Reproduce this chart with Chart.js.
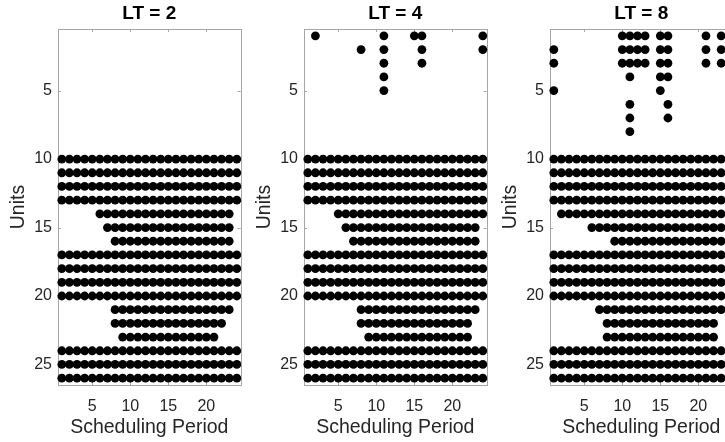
<!DOCTYPE html>
<html>
<head>
<meta charset="utf-8">
<title>Unit commitment by LT</title>
<script src="https://cdn.jsdelivr.net/npm/chart.js@4.4.1/dist/chart.umd.min.js"></script>
<style>
  html, body { margin: 0; padding: 0; background: #fff; }
  #wrap { position: relative; width: 725px; height: 442px; overflow: hidden; background: #fff; }
  #wrap canvas { position: absolute; top: 0; }
</style>
</head>
<body>
<div id="wrap">
  <canvas id="lt2" width="245" height="442" style="left:0px"></canvas>
  <canvas id="lt4" width="245" height="442" style="left:246px"></canvas>
  <canvas id="lt8" width="245" height="442" style="left:492px"></canvas>
</div>
<script>
// on/off status, one string per unit (1..26), periods 1..24 in groups of 4
const panelTitles = ['LT = 2', 'LT = 4', 'LT = 8'];
const xTickValues = [5, 10, 15, 20];
const yTickValues = [5, 10, 15, 20, 25];

const lt2Status = [
  '0000 0000 0000 0000 0000 0000', // 1
  '0000 0000 0000 0000 0000 0000',
  '0000 0000 0000 0000 0000 0000',
  '0000 0000 0000 0000 0000 0000',
  '0000 0000 0000 0000 0000 0000', // 5
  '0000 0000 0000 0000 0000 0000',
  '0000 0000 0000 0000 0000 0000',
  '0000 0000 0000 0000 0000 0000',
  '0000 0000 0000 0000 0000 0000',
  '1111 1111 1111 1111 1111 1111', // 10
  '1111 1111 1111 1111 1111 1111',
  '1111 1111 1111 1111 1111 1111',
  '1111 1111 1111 1111 1111 1111',
  '0000 0111 1111 1111 1111 1110',
  '0000 0011 1111 1111 1111 1110', // 15
  '0000 0001 1111 1111 1111 1110',
  '1111 1111 1111 1111 1111 1111',
  '1111 1111 1111 1111 1111 1111',
  '1111 1111 1111 1111 1111 1111',
  '1111 1111 1111 1111 1111 1111', // 20
  '0000 0001 1111 1111 1111 1110',
  '0000 0001 1111 1111 1111 1100',
  '0000 0000 1111 1111 1111 1000',
  '1111 1111 1111 1111 1111 1111',
  '1111 1111 1111 1111 1111 1111', // 25
  '1111 1111 1111 1111 1111 1111'
];

const lt4Status = [
  '0100 0000 0010 0011 0000 0001', // 1
  '0000 0001 0010 0001 0000 0001',
  '0000 0000 0010 0001 0000 0000',
  '0000 0000 0010 0000 0000 0000',
  '0000 0000 0010 0000 0000 0000', // 5
  '0000 0000 0000 0000 0000 0000',
  '0000 0000 0000 0000 0000 0000',
  '0000 0000 0000 0000 0000 0000',
  '0000 0000 0000 0000 0000 0000',
  '1111 1111 1111 1111 1111 1111', // 10
  '1111 1111 1111 1111 1111 1111',
  '1111 1111 1111 1111 1111 1111',
  '1111 1111 1111 1111 1111 1111',
  '0000 1111 1111 1111 1111 1111',
  '0000 0111 1111 1111 1111 1110', // 15
  '0000 0011 1111 1111 1111 1110',
  '1111 1111 1111 1111 1111 1111',
  '1111 1111 1111 1111 1111 1111',
  '1111 1111 1111 1111 1111 1111',
  '1111 1111 1111 1111 1111 1111', // 20
  '0000 0001 1111 1111 1111 1110',
  '0000 0001 1111 1111 1111 1100',
  '0000 0000 1111 1111 1111 1100',
  '1111 1111 1111 1111 1111 1111',
  '1111 1111 1111 1111 1111 1111', // 25
  '1111 1111 1111 1111 1111 1111'
];

const lt8Status = [
  '0000 0000 0111 1011 0000 1011', // 1
  '1000 0000 0111 1011 0000 1011',
  '1000 0000 0111 1011 0000 1011',
  '0000 0000 0010 0011 0000 0000',
  '1000 0000 0000 0010 0000 0000', // 5
  '0000 0000 0010 0001 0000 0000',
  '0000 0000 0010 0001 0000 0000',
  '0000 0000 0010 0000 0000 0000',
  '0000 0000 0000 0000 0000 0000',
  '1111 1111 1111 1111 1111 1111', // 10
  '1111 1111 1111 1111 1111 1111',
  '1111 1111 1111 1111 1111 1111',
  '1111 1111 1111 1111 1111 1111',
  '0111 1111 1111 1111 1111 1111',
  '0000 0111 1111 1111 1111 1111', // 15
  '0000 0000 1111 1111 1111 1111',
  '1111 1111 1111 1111 1111 1111',
  '1111 1111 1111 1111 1111 1111',
  '1111 1111 1111 1111 1111 1111',
  '1111 1111 1111 1111 1111 1111', // 20
  '0000 0011 1111 1111 1111 1111',
  '0000 0001 1111 1111 1111 1100',
  '0000 0001 1111 1111 1111 1100',
  '1111 1111 1111 1111 1111 1111',
  '1111 1111 1111 1111 1111 1111', // 25
  '1111 1111 1111 1111 1111 1111'
];

const FONT = '"Liberation Sans", Arial, Helvetica, sans-serif';
const TEXT = '#262626';
const AXIS = '#a6a6a6';

function toPoints(rows) {
  const pts = [];
  rows.forEach((row, i) => {
    row.replace(/\s/g, '').split('').forEach((c, j) => {
      if (c === '1') pts.push({ x: j + 1, y: i + 1 });
    });
  });
  return pts;
}

// matlab style box with inward ticks on all four sides
const boxPlugin = {
  id: 'box',
  beforeDatasetsDraw(chart) {
    const { ctx, chartArea: a, scales } = chart;
    const len = 3;
    ctx.save();
    ctx.strokeStyle = AXIS;
    ctx.lineWidth = 1;
    ctx.strokeRect(Math.round(a.left) + 0.5, Math.round(a.top) + 0.5,
      Math.round(a.right - a.left), Math.round(a.bottom - a.top));
    ctx.beginPath();
    xTickValues.forEach(v => {
      const px = Math.round(scales.x.getPixelForValue(v)) + 0.5;
      ctx.moveTo(px, a.bottom); ctx.lineTo(px, a.bottom - len);
      ctx.moveTo(px, a.top); ctx.lineTo(px, a.top + len);
    });
    yTickValues.forEach(v => {
      const py = Math.round(scales.y.getPixelForValue(v)) + 0.5;
      ctx.moveTo(a.left, py); ctx.lineTo(a.left + len, py);
      ctx.moveTo(a.right, py); ctx.lineTo(a.right - len, py);
    });
    ctx.stroke();
    ctx.restore();
  }
};

function makePanel(id, title, status) {
  const ctx = document.getElementById(id).getContext('2d');
  return new Chart(ctx, {
    type: 'scatter',
    data: {
      datasets: [{
        data: toPoints(status),
        backgroundColor: '#000',
        borderWidth: 0,
        pointRadius: 4.4,
        pointHoverRadius: 4.4,
        clip: false
      }]
    },
    options: {
      responsive: false,
      animation: false,
      devicePixelRatio: 1,
      events: [],
      layout: { padding: { left: 0, right: 4, top: 0, bottom: 0 } },
      plugins: {
        legend: { display: false },
        tooltip: { enabled: false },
        title: {
          display: true,
          text: title,
          fullSize: false,
          color: '#000',
          font: { family: FONT, size: 19, weight: 'bold', lineHeight: 1.2 },
          padding: { top: 2, bottom: 4.2 }
        }
      },
      scales: {
        x: {
          type: 'linear',
          min: 0.5,
          max: 24.5,
          afterBuildTicks: s => { s.ticks = xTickValues.map(v => ({ value: v })); },
          afterFit: s => { s.height = 57; },
          grid: { display: false, drawTicks: false },
          border: { display: false },
          ticks: { color: TEXT, padding: 12, font: { family: FONT, size: 16 }, maxRotation: 0 },
          title: {
            display: true, text: 'Scheduling Period', color: TEXT,
            font: { family: FONT, size: 19.5 }, padding: { top: 0, bottom: 3 }
          }
        },
        y: {
          type: 'linear',
          reverse: true,
          min: 0.5,
          max: 26.5,
          afterBuildTicks: s => { s.ticks = yTickValues.map(v => ({ value: v })); },
          afterFit: s => { s.width = 58; },
          grid: { display: false, drawTicks: false },
          border: { display: false },
          ticks: { color: TEXT, padding: 6, font: { family: FONT, size: 16 } },
          title: {
            display: true, text: 'Units', color: TEXT,
            font: { family: FONT, size: 19.5 }, padding: { top: 7, bottom: 0 }
          }
        }
      }
    },
    plugins: [boxPlugin]
  });
}

makePanel('lt2', panelTitles[0], lt2Status);
makePanel('lt4', panelTitles[1], lt4Status);
makePanel('lt8', panelTitles[2], lt8Status);
</script>
</body>
</html>
